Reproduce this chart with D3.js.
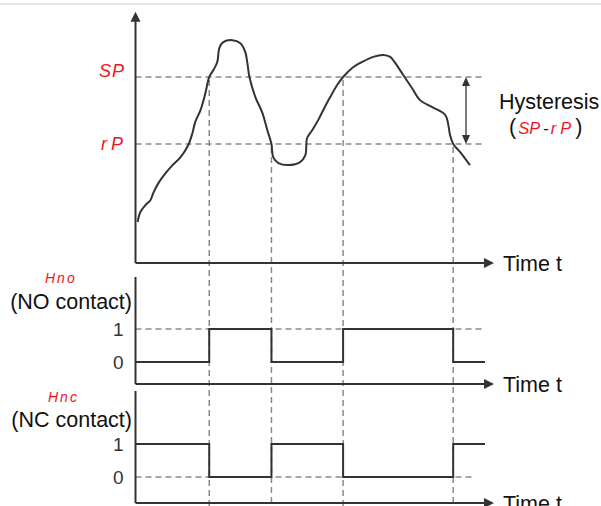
<!DOCTYPE html>
<html>
<head>
<meta charset="utf-8">
<script src="https://cdn.jsdelivr.net/npm/d3@7"></script>
<style>
  html, body { margin: 0; padding: 0; background: #fff; }
  svg { display: block; font-family: "Liberation Sans", Arial, sans-serif; }
</style>
</head>
<body>
<svg id="chart" width="601" height="506"></svg>
<script>
// process value over time
const curveTime  = [0.6, 1.4, 2.9, 4.3, 5.1, 6.6, 8.6, 10.6, 12.9, 15.1, 16.3, 17.1, 18.6, 20.0, 21.1, 22.3, 23.4, 24.0, 25.1, 27.7, 30.0, 31.4, 32.0, 32.6, 34.3, 36.3, 37.7, 38.9, 39.4, 40.9, 43.7, 47.1, 48.6, 49.1, 50.6, 52.3, 53.7, 55.7, 57.7, 59.4, 62.0, 64.9, 68.0, 70.9, 72.9, 74.3, 76.6, 79.1, 81.4, 84.9, 88.6, 89.4, 90.0, 90.9, 92.9, 95.7];
const curveValue = [16.7, 19.7, 21.8, 23.3, 25.4, 28.4, 31.3, 33.7, 36.1, 39.7, 43.3, 46.6, 50.1, 55.2, 60.0, 62.1, 64.5, 68.7, 70.4, 71.0, 70.1, 67.5, 64.2, 60.0, 54.0, 49.3, 44.2, 40.0, 36.1, 34.3, 33.7, 34.6, 36.7, 41.8, 44.2, 47.2, 50.1, 54.0, 57.6, 60.0, 62.7, 64.5, 66.0, 66.6, 66.0, 64.2, 60.6, 56.7, 53.1, 51.0, 48.7, 46.3, 42.7, 40.0, 37.6, 33.7];

// thresholds
const setPoint = 60;     // SP
const resetPoint = 40;   // rP

// switching instants: on at SP crossing, off at rP crossing
const switchTimes = [0, 21.1, 38.9, 59.4, 90.9, 100];
const switchLevel = [setPoint, setPoint, resetPoint, setPoint, resetPoint];
const noStates = [0, 1, 0, 1, 0, 0];
const ncStates = [1, 0, 1, 0, 1, 1];
const stateTicks = [0, 1];

const axisLabel = "Time t";
const hystLabel = "Hysteresis";

const svg = d3.select("#chart");
const ink = "#333";
const dashCol = "#8a8a8a";

// top border line of the frame
svg.append("line").attr("x1", 0).attr("x2", 601).attr("y1", 4).attr("y2", 4)
  .attr("stroke", "#dcdcdc").attr("stroke-width", 1.5);

const x = d3.scaleLinear().domain([0, 100]).range([135.5, 485]);
const y = d3.scaleLinear().domain([0, 80]).range([278, 10]);
const yNO = d3.scaleLinear().domain([0, 1]).range([362, 329]);
const yNC = d3.scaleLinear().domain([0, 1]).range([477, 444]);

const axisX = x(0);
const axisEnd = 494;

function arrowRight(yy) {
  svg.append("line").attr("x1", axisX).attr("x2", axisEnd - 8).attr("y1", yy).attr("y2", yy)
    .attr("stroke", ink).attr("stroke-width", 2);
  svg.append("path")
    .attr("d", `M${axisEnd},${yy} L${axisEnd - 10},${yy - 5} L${axisEnd - 10},${yy + 5} Z`)
    .attr("fill", ink);
  svg.append("text").attr("x", 503).attr("y", yy + 8)
    .attr("font-size", 21.5).attr("fill", "#111").text(axisLabel);
}
function vAxis(y0, y1) {
  svg.append("line").attr("x1", axisX).attr("x2", axisX).attr("y1", y0).attr("y2", y1)
    .attr("stroke", ink).attr("stroke-width", 2);
}

// horizontal threshold dashes
[setPoint, resetPoint].forEach(v => {
  svg.append("line").attr("x1", axisX).attr("x2", x(99.5))
    .attr("y1", y(v)).attr("y2", y(v))
    .attr("stroke", dashCol).attr("stroke-width", 1.5).attr("stroke-dasharray", "6,4");
});

// vertical dashes at switching instants
switchTimes.slice(1, 5).forEach((t, i) => {
  svg.append("line").attr("x1", x(t)).attr("x2", x(t))
    .attr("y1", y(switchLevel[i + 1]) + 3).attr("y2", 506)
    .attr("stroke", dashCol).attr("stroke-width", 1.5).attr("stroke-dasharray", "6,4");
});

// state reference dashes
svg.append("line").attr("x1", axisX).attr("x2", x(99.5)).attr("y1", yNO(1)).attr("y2", yNO(1))
  .attr("stroke", dashCol).attr("stroke-width", 1.5).attr("stroke-dasharray", "6,4");
svg.append("line").attr("x1", axisX).attr("x2", x(97)).attr("y1", yNC(0)).attr("y2", yNC(0))
  .attr("stroke", dashCol).attr("stroke-width", 1.5).attr("stroke-dasharray", "6,4");

// axes
vAxis(y(78), 263);
svg.append("path").attr("d", `M${axisX},${y(79.5)} L${axisX - 5},${y(79.5) + 10} L${axisX + 5},${y(79.5) + 10} Z`)
  .attr("fill", ink);
arrowRight(263);
vAxis(277, 384);
arrowRight(384);
vAxis(391, 503);
arrowRight(503);

// process curve
const curvePts = curveTime.map((t, i) => [t, curveValue[i]]);
svg.append("path")
  .datum(curvePts)
  .attr("fill", "none").attr("stroke", ink).attr("stroke-width", 2).attr("stroke-linejoin", "round")
  .attr("d", d3.line().x(d => x(d[0])).y(d => y(d[1])).curve(d3.curveCatmullRom.alpha(0.5)));

// step signals
const step = (sc) => d3.line().x(d => x(d[0])).y(d => sc(d[1])).curve(d3.curveStepAfter);
svg.append("path").datum(switchTimes.map((t, i) => [t, noStates[i]]))
  .attr("fill", "none").attr("stroke", ink).attr("stroke-width", 2).attr("d", step(yNO));
svg.append("path").datum(switchTimes.map((t, i) => [t, ncStates[i]]))
  .attr("fill", "none").attr("stroke", ink).attr("stroke-width", 2).attr("d", step(yNC));

// 0 / 1 tick labels
[yNO, yNC].forEach(sc => {
  const g = svg.append("g").attr("transform", `translate(${axisX},0)`)
    .call(d3.axisLeft(sc).tickValues(stateTicks).tickSize(0).tickPadding(12).tickFormat(d3.format("d")));
  g.select(".domain").remove();
  g.selectAll("text").attr("font-size", 19).attr("fill", "#333")
    .attr("font-family", "Liberation Sans, Arial, sans-serif");
});

// red display-style labels
const red = "#f0141e";
function dispText(xx, yy, s, size, ls) {
  svg.append("text").attr("x", xx).attr("y", yy).attr("fill", red)
    .attr("font-size", size).attr("font-style", "italic").attr("letter-spacing", ls).text(s);
}
dispText(99, y(setPoint), "SP", 18, 1);
dispText(101, y(resetPoint) + 6, "rP", 18, 4);
dispText(45, 283, "Hno", 14, 2);
dispText(48, 402, "Hnc", 14, 2);

svg.append("text").attr("x", 132).attr("y", 309).attr("text-anchor", "end")
  .attr("font-size", 21.5).attr("fill", "#111").text("(NO contact)");
svg.append("text").attr("x", 132).attr("y", 427).attr("text-anchor", "end")
  .attr("font-size", 21.5).attr("fill", "#111").text("(NC contact)");

// hysteresis double arrow
const hx = 466;
svg.append("line").attr("x1", hx).attr("x2", hx).attr("y1", y(setPoint) + 6).attr("y2", y(resetPoint) - 6)
  .attr("stroke", ink).attr("stroke-width", 1.3);
svg.append("path").attr("d", `M${hx},${y(setPoint)} l-4,9 l8,0 Z`).attr("fill", ink);
svg.append("path").attr("d", `M${hx},${y(resetPoint)} l-4,-9 l8,0 Z`).attr("fill", ink);

svg.append("text").attr("x", 499).attr("y", 109).attr("font-size", 21.5).attr("fill", "#111").text(hystLabel);
const ht = svg.append("text").attr("x", 509).attr("y", 134).attr("font-size", 21.5).attr("fill", "#111");
ht.append("tspan").text("(");
ht.append("tspan").attr("fill", red).attr("font-style", "italic").attr("font-size", 16.5).attr("dx", 2).text("SP");
ht.append("tspan").attr("font-size", 16.5).attr("dx", 3).text("-");
ht.append("tspan").attr("fill", red).attr("font-style", "italic").attr("font-size", 16.5).attr("dx", 2)
  .attr("letter-spacing", 4).text("rP");
ht.append("tspan").attr("dx", 0).text(")");
</script>
</body>
</html>
